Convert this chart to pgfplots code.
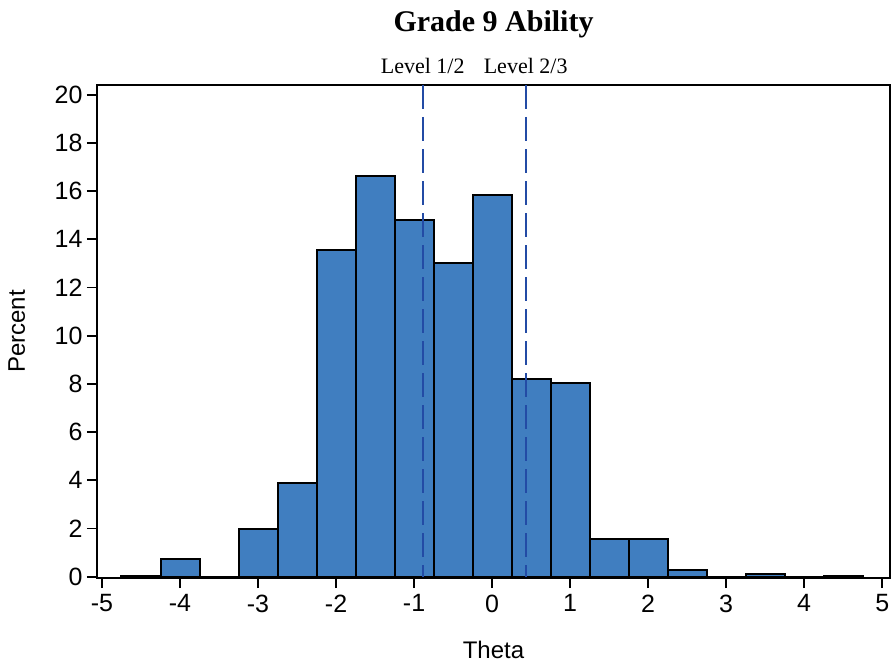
\documentclass[border=0pt]{standalone}
\usepackage{fontspec}
\setmainfont{Liberation Serif}
\newfontfamily\arial{Liberation Sans}
\usepackage{pgfplots}
\usepackage{pgfplotstable}
\pgfplotsset{compat=1.18}
\definecolor{barfill}{RGB}{64,126,192}
\definecolor{refline}{RGB}{35,75,165}
\pgfplotstableread{
x y
-4.5 0.04
-4.0 0.75
-3.5 0.0
-3.0 1.98
-2.5 3.9
-2.0 13.55
-1.5 16.62
-1.0 14.8
-0.5 13.0
0.0 15.83
0.5 8.2
1.0 8.03
1.5 1.57
2.0 1.57
2.5 0.28
3.0 0.0
3.5 0.13
4.0 0.0
4.5 0.05
}\histdata
\begin{document}
\begin{tikzpicture}
\begin{axis}[
  scale only axis,
  width=793pt, height=493pt,
  xmin=-5.064, xmax=5.1,
  ymin=-0.05, ymax=20.4,
  xtick={-5,-4,...,5},
  ytick={0,2,...,20},
  xtick pos=left, ytick pos=left,
  tick align=outside,
  major tick length=10pt,
  axis line style={line width=1.8pt},
  every tick/.style={line width=1.8pt, black},
  /pgf/number format/assume math mode=true,
  ticklabel style={font=\arial\fontsize{25}{28}\selectfont},
  xticklabel style={yshift=-3pt},
  yticklabel style={xshift=-1pt},
  xlabel={Theta}, ylabel={Percent},
  label style={font=\arial\fontsize{24}{27}\selectfont},
  xlabel style={at={(axis description cs:0.5,0)}, anchor=base, yshift=-80pt},
  ylabel style={at={(axis description cs:0,0.5)}, anchor=base, yshift=72pt},
  title={Grade 9 Ability},
  title style={font=\bfseries\fontsize{30}{34}\selectfont, at={(axis description cs:0.5,1)}, anchor=base, yshift=47pt},
  clip=false,
]
\addplot[ybar, bar width=0.5, bar shift=0pt, fill=barfill, draw=black, line width=2pt] table[x=x,y=y] {\histdata};
\addplot[refline, line width=1.8pt, dash pattern=on 24pt off 8pt] coordinates {(-0.89,20.4) (-0.89,0)};
\addplot[refline, line width=1.8pt, dash pattern=on 24pt off 8pt] coordinates {(0.43,20.4) (0.43,0)};
\node[anchor=base, font=\fontsize{22}{25}\selectfont, yshift=11pt] at (axis cs:-0.89,20.4) {Level 1/2};
\node[anchor=base, font=\fontsize{22}{25}\selectfont, yshift=11pt] at (axis cs:0.43,20.4) {Level 2/3};
\end{axis}
\pgfresetboundingbox
\path ([shift={(-97pt,-87pt)}]current axis.south west) rectangle ([shift={(1pt,85pt)}]current axis.north east);
\end{tikzpicture}
\end{document}
